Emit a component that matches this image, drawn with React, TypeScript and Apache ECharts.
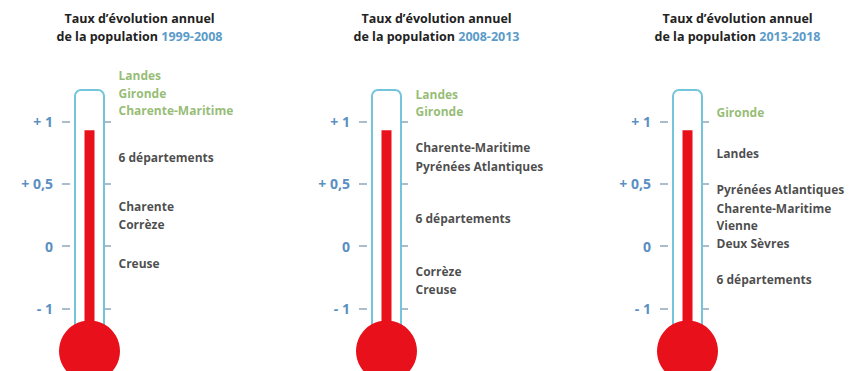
import React, { useEffect, useRef } from "react";
import * as echarts from "echarts";

// Periods shown (one thermometer each)
const periods = ["1999-2008", "2008-2013", "2013-2018"];

// Scale ticks (equally spaced positions on the thermometer scale)
const tickPositions = [1, 2, 3, 4];
const tickLabels = ["- 1", "0", "+ 0,5", "+ 1"];

// Height of the mercury column (scale position), and bulb centre
const mercury = [3.86, 3.86, 3.86];
const bulb = [0.32, 0.32, 0.32];
const tubeTop = [4.52, 4.52, 4.52];

// Départements and their position on the scale, per period
const names1 = ["Landes", "Gironde", "Charente-Maritime", "6 départements", "Charente", "Corrèze", "Creuse"];
const pos1 = [4.73, 4.45, 4.18, 3.42, 2.64, 2.34, 1.73];
const names2 = ["Landes", "Gironde", "Charente-Maritime", "Pyrénées Atlantiques", "6 départements", "Corrèze", "Creuse"];
const pos2 = [4.43, 4.16, 3.58, 3.28, 2.44, 1.59, 1.31];
const names3 = ["Gironde", "Landes", "Pyrénées Atlantiques", "Charente-Maritime", "Vienne", "Deux Sèvres", "6 départements"];
const pos3 = [4.15, 3.49, 2.91, 2.61, 2.33, 2.04, 1.47];

const allNames = [names1, names2, names3];
const allPos = [pos1, pos2, pos3];

export default function App() {
  const ref = useRef<HTMLDivElement>(null);

  useEffect(() => {
    document.body.style.margin = "0";
    if (!ref.current) return;
    const chart = echarts.init(ref.current, null, { renderer: "svg" });

    const font = "'Open Sans', sans-serif";
    const centers = [89.5, 386.5, 687.5];
    const tubeW = 33;
    const green = "#7aab50";
    const black = "#1c1c1c";
    const red = "#e8111b";
    const tubeBlue = "#74c5dc";
    const tickColor = "#8fa7b8";
    const axisBlue = "#5b8fc2";

    const grid: any[] = [];
    const xAxis: any[] = [];
    const yAxis: any[] = [];
    const series: any[] = [];
    const title: any[] = [];

    periods.forEach((p, i) => {
      grid.push({ left: centers[i] - tubeW / 2, width: tubeW, top: 59, height: 319 });
      xAxis.push({ type: "category", data: [""], gridIndex: i, show: false });
      xAxis.push({ type: "category", data: [""], gridIndex: i, show: false });
      const yBase = {
        type: "value",
        gridIndex: i,
        min: 0,
        max: 5,
        splitLine: { show: false },
        axisLine: { show: false },
      };
      yAxis.push({
        ...yBase,
        position: "left",
        offset: 3,
        axisTick: { show: true, length: 8, customValues: tickPositions, lineStyle: { color: tickColor, width: 1.5 } },
        axisLabel: {
          show: true,
          customValues: tickPositions,
          margin: 17,
          color: axisBlue,
          fontSize: 14,
          fontWeight: "bold",
          fontFamily: font,
          formatter: (v: number) => {
            const k = tickPositions.indexOf(Math.round(v));
            return k >= 0 ? tickLabels[k] : "";
          },
        },
      });
      yAxis.push({
        ...yBase,
        position: "right",
        offset: -3,
        axisTick: { show: true, length: 8, customValues: tickPositions, lineStyle: { color: tickColor, width: 1.5 } },
        axisLabel: { show: false },
      });

      const yIdx = i * 2;
      series.push({
        type: "bar",
        xAxisIndex: i * 2,
        yAxisIndex: yIdx,
        barWidth: tubeW - 2,
        data: [tubeTop[i]],
        itemStyle: { color: "#ffffff", borderColor: tubeBlue, borderWidth: 2, borderRadius: [6, 6, 0, 0] },
        z: 1,
      });
      series.push({
        type: "bar",
        xAxisIndex: i * 2 + 1,
        yAxisIndex: yIdx,
        barWidth: 10,
        data: [mercury[i]],
        itemStyle: { color: red },
        z: 2,
      });
      series.push({
        type: "scatter",
        xAxisIndex: i * 2,
        yAxisIndex: yIdx,
        symbolSize: 61,
        clip: false,
        data: [[0, bulb[i]]],
        itemStyle: { color: red, opacity: 1 },
        z: 3,
      });
      series.push({
        type: "scatter",
        xAxisIndex: i * 2,
        yAxisIndex: yIdx,
        symbolSize: 1,
        clip: false,
        itemStyle: { color: "rgba(0,0,0,0)" },
        data: allNames[i].map((n, k) => ({
          name: n,
          value: [0, allPos[i][k]],
          label: { color: allPos[i][k] > 4 ? green : black },
        })),
        label: {
          show: true,
          position: "right",
          distance: 28.5,
          formatter: (d: any) => d.name,
          fontSize: 12,
          fontWeight: "bold",
          fontFamily: font,
        },
        z: 4,
      });

      title.push({
        text: `{a|Taux d’évolution annuel}\n{a|de la population }{b|${p}}`,
        left: centers[i] + 50,
        top: 9,
        textAlign: "center",
        padding: 0,
        textStyle: {
          rich: {
            a: { fontSize: 12.5, fontWeight: "bold", color: "#222", fontFamily: font, lineHeight: 18 },
            b: { fontSize: 12.5, fontWeight: "bold", color: "#5b9bc9", fontFamily: font, lineHeight: 18 },
          },
        },
      });
    });

    chart.setOption({
      animation: false,
      backgroundColor: "#ffffff",
      title,
      grid,
      xAxis,
      yAxis,
      series,
    });

    return () => chart.dispose();
  }, []);

  return <div ref={ref} style={{ width: 850, height: 371 }} />;
}
